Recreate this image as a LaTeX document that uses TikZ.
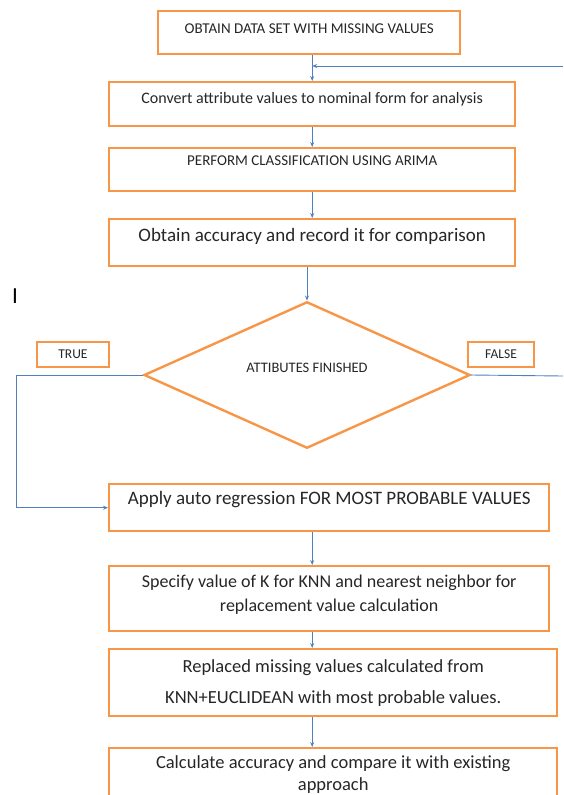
\documentclass[tikz,border=0pt]{standalone}
\usepackage{fontspec}
\setmainfont{Carlito}
\usetikzlibrary{arrows.meta,positioning,shapes.geometric}
\definecolor{boxorange}{RGB}{247,150,70}
\definecolor{linkblue}{RGB}{79,129,189}

\begin{document}
\begin{tikzpicture}[
    x=1pt, y=-1pt,
    block/.style={rectangle, draw=boxorange, line width=2.4pt, anchor=north west, inner sep=2pt, align=center, text=black!85},
    tag/.style={rectangle, draw=boxorange, line width=2.4pt, inner sep=0pt, text=black!85, font=\fontsize{13.5}{15}\selectfont},
    decision/.style={diamond, draw=boxorange, line width=2.4pt, inner sep=0pt, text=black!85},
    line/.style={draw=linkblue, line width=0.9pt, -{Stealth[length=5pt,width=4pt]}},
    plain/.style={draw=linkblue, line width=0.9pt}
]
    \useasboundingbox (0,0) rectangle (563,795);

    % Main column
    \node[block, minimum width=302pt, minimum height=43pt, text height=10.5pt, text depth=9.9pt,
          font=\fontsize{15}{17}\selectfont] (obtain) at (157,10) {OBTAIN DATA SET WITH MISSING VALUES};
    \node[block, minimum width=406pt, minimum height=44pt, text height=11.2pt, text depth=13pt,
          font=\fontsize{16}{19}\selectfont] (convert) at (108,81) {Convert attribute values to nominal form for analysis};
    \node[block, minimum width=406pt, minimum height=43pt, text height=10.5pt, text depth=19.9pt,
          font=\fontsize{15}{17}\selectfont] (classify) at (108,147) {PERFORM CLASSIFICATION USING ARIMA};
    \node[block, minimum width=406pt, minimum height=47pt, text height=13.3pt, text depth=16.1pt,
          font=\fontsize{19}{22}\selectfont] (record) at (108,218) {Obtain accuracy and record it for comparison};

    % Decision
    \node[decision, minimum width=326pt, minimum height=144pt, text height=10.2pt, text depth=14.9pt,
          font=\fontsize{14.5}{17}\selectfont] (check) at (307,375) {ATTIBUTES FINISHED};
    \node[tag, minimum width=72pt, minimum height=25pt] (yes) at (73,354.5) {TRUE};
    \node[tag, minimum width=66pt, minimum height=25pt] (no) at (501,354.5) {FALSE};
    \node[font=\fontsize{23}{25}\selectfont, inner sep=0pt] (mark) at (15,296) {I};

    % Lower column
    \node[block, minimum width=440pt, minimum height=47pt, text height=13.3pt, text depth=20.1pt,
          font=\fontsize{19}{22}\selectfont] (regress) at (108,483) {Apply auto regression FOR MOST PROBABLE VALUES};
    \node[block, minimum width=440pt, minimum height=65pt,
          font=\fontsize{18}{24}\selectfont] (knn) at (108,565) {Specify value of K for KNN and nearest neighbor for\\replacement value calculation\rule[-10pt]{0pt}{10pt}};
    \node[block, minimum width=448pt, minimum height=67pt,
          font=\fontsize{18.5}{31}\selectfont] (replace) at (108,648) {Replaced missing values calculated from\\KNN+EUCLIDEAN with most probable values.};
    \node[block, minimum width=448pt, minimum height=52pt,
          font=\fontsize{18.5}{22}\selectfont] (compare) at (108,747) {Calculate accuracy and compare it with existing\\approach};

    % Loop ends off the page
    \coordinate (loopin) at (563,66);
    \coordinate (loopout) at (563,376);

    % Connecting lines
    \path[line] (obtain.south -| convert.north) -- (convert.north);
    \path[line] (loopin) -- (loopin -| convert.north);
    \path[line] (convert.south) -- (classify.north);
    \path[line] (classify.south) -- (record.north);
    \path[line] (record.south -| check.north) -- (check.north);
    \path[line] (check.west) -- ++(-126,0) |- (regress.west);
    \path[plain] (check.east) -- (loopout);
    \path[line] (regress.south -| record.south) -- (knn.north -| record.south);
    \path[line] (knn.south -| record.south) -- (replace.north -| record.south);
    \path[line] (replace.south -| record.south) -- (compare.north -| record.south);
\end{tikzpicture}
\end{document}
